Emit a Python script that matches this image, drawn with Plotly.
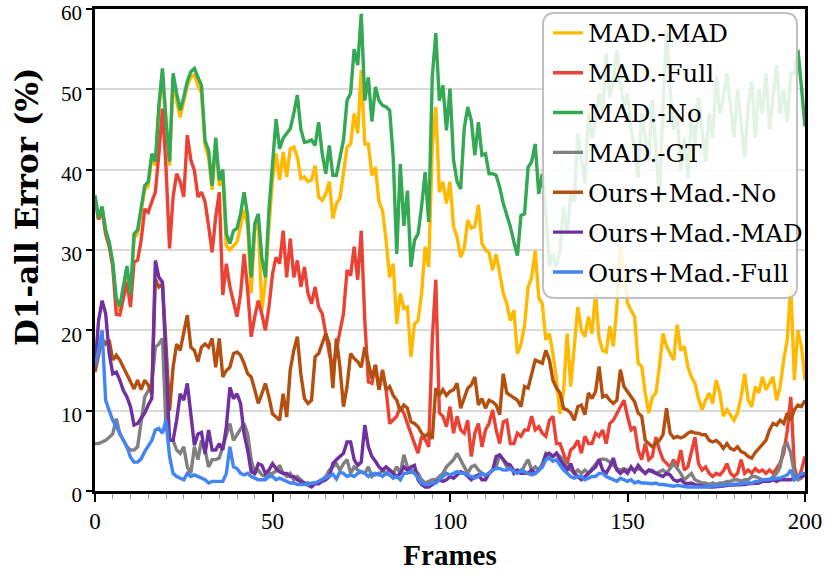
import plotly.graph_objects as go

# Frame index 0..200 and D1-all error (%) for each configuration
frames = list(range(201))

mad_mad = [
    36.5, 33.8, 35.0, 32.0, 30.5, 28.0, 23.5, 22.5, 25.0, 27.5,
    24.0, 31.5, 32.0, 34.5, 37.5, 38.0, 41.5, 40.5, 47.5, 52.0,
    45.5, 40.5, 51.5, 48.5, 46.5, 48.5, 50.5, 51.5, 51.8, 50.5,
    49.5, 43.0, 41.5, 37.5, 43.5, 38.0, 39.0, 30.5, 30.0, 30.5,
    31.0, 33.0, 35.0, 33.0, 24.6, 32.5, 33.5, 22.5, 26.0, 33.0,
    38.7, 42.0, 38.7, 42.2, 39.1, 42.6, 42.8, 41.6, 38.9, 39.1,
    38.5, 38.7, 40.5, 36.6, 36.2, 37.0, 38.5, 33.9, 35.8, 36.4,
    39.9, 42.8, 43.2, 47.0, 44.5, 52.4, 43.2, 43.2, 39.3, 40.3,
    36.0, 34.9, 31.2, 26.6, 28.3, 20.8, 24.6, 22.7, 22.9, 16.7,
    20.8, 21.2, 24.6, 30.4, 27.9, 42.8, 47.8, 37.2, 38.5, 35.8,
    38.5, 32.9, 31.6, 29.1, 30.2, 33.7, 32.7, 32.9, 35.6, 30.8,
    30.0, 29.7, 27.5, 29.5, 27.1, 24.6, 23.3, 21.2, 22.5, 17.1,
    18.3, 20.6, 25.4, 26.6, 29.9, 24.1, 23.3, 18.8, 19.6, 17.1,
    13.8, 9.6, 12.5, 19.6, 13.0, 17.5, 22.9, 20.0, 19.2, 21.7,
    19.6, 24.6, 19.0, 17.5, 17.3, 20.5, 18.0, 22.9, 30.4, 27.1,
    23.4, 22.5, 21.7, 15.9, 15.5, 12.2, 9.7, 11.7, 12.2, 15.5,
    19.6, 18.0, 17.1, 16.3, 20.7, 17.5, 18.0, 15.5, 14.2, 13.4,
    11.5, 10.1, 11.3, 12.2, 10.9, 13.8, 12.2, 9.3, 10.1, 9.5,
    8.8, 9.7, 11.7, 14.6, 11.3, 10.5, 13.0, 12.2, 14.2, 12.6,
    13.4, 14.2, 11.3, 13.0, 16.3, 18.8, 25.5, 13.8, 20.0, 18.0,
    13.8,
]

mad_full = [
    36.5, 33.8, 35.0, 32.0, 30.5, 28.0, 22.0, 21.9, 24.0, 26.0,
    22.9, 28.5, 28.7, 31.2, 35.1, 34.7, 36.0, 37.2, 42.0, 47.6,
    40.3, 30.2, 36.6, 39.5, 38.5, 36.6, 44.3, 41.2, 39.9, 36.6,
    37.2, 36.0, 33.0, 29.7, 34.1, 37.2, 24.4, 28.3, 25.4, 23.7,
    21.7, 24.5, 29.5, 25.0, 19.2, 21.7, 23.7, 22.0, 20.0, 22.9,
    27.0, 29.1, 28.3, 32.4, 26.6, 31.4, 26.6, 28.7, 25.4, 27.9,
    24.6, 23.3, 25.4, 22.9, 22.1, 19.6, 17.1, 15.4, 17.5, 19.6,
    22.1, 27.5, 26.8, 30.4, 26.3, 32.4, 21.2, 13.6, 13.4, 15.7,
    12.6, 15.1, 12.6, 8.4, 8.8, 9.3, 10.5, 9.7, 8.4, 7.0,
    5.9, 4.7, 6.8, 6.4, 5.5, 18.8, 26.3, 9.7, 9.3, 8.0,
    10.5, 7.2, 9.3, 7.6, 7.2, 8.8, 4.3, 7.2, 8.4, 5.5,
    7.6, 8.4, 10.1, 7.6, 5.9, 8.6, 8.8, 5.9, 5.9, 7.2,
    6.8, 7.6, 7.6, 9.3, 7.6, 8.0, 7.2, 6.8, 8.8, 9.3,
    5.9, 5.9, 4.7, 3.4, 5.1, 5.5, 6.3, 4.7, 6.8, 5.9,
    5.9, 7.2, 6.8, 7.6, 5.9, 8.4, 8.8, 9.7, 10.5, 11.3,
    9.3, 7.6, 8.0, 5.1, 3.9, 5.9, 3.9, 4.3, 6.7, 5.1,
    3.9, 3.4, 3.0, 3.9, 3.0, 5.1, 2.6, 3.0, 4.7, 6.7,
    3.4, 2.6, 3.0, 2.2, 1.8, 2.2, 2.0, 2.5, 3.4, 2.2,
    1.8, 2.2, 3.9, 2.2, 2.6, 2.2, 2.8, 2.4, 2.6, 2.2,
    2.6, 2.2, 2.8, 3.5, 4.7, 7.5, 11.7, 3.0, 1.4, 2.6,
    4.3,
]

mad_no = [
    36.8, 34.0, 35.4, 32.5, 31.0, 28.5, 24.0, 23.0, 25.5, 28.0,
    24.5, 32.0, 32.5, 35.0, 38.0, 38.5, 42.0, 41.0, 48.0, 52.6,
    46.0, 41.0, 52.0, 49.5, 47.4, 49.0, 51.0, 52.2, 52.6, 51.5,
    50.5, 43.6, 42.4, 38.0, 44.0, 38.7, 40.0, 32.0, 30.8, 32.4,
    32.7, 34.5, 37.2, 34.3, 26.6, 33.3, 34.5, 29.0, 26.6, 35.0,
    41.2, 46.3, 42.6, 43.9, 44.5, 45.1, 47.0, 49.3, 45.0, 43.4,
    43.5, 43.7, 43.0, 45.9, 42.0, 39.5, 43.0, 39.3, 39.3, 41.4,
    43.7, 48.6, 49.5, 55.0, 53.0, 59.4, 48.6, 51.5, 46.0, 50.3,
    48.6, 48.0, 47.8, 47.4, 41.6, 29.5, 40.7, 33.0, 37.4, 27.9,
    31.2, 32.0, 35.4, 39.7, 33.5, 51.5, 57.0, 48.6, 50.5, 44.9,
    50.1, 41.2, 38.5, 37.6, 45.1, 47.8, 46.1, 41.8, 45.9, 41.8,
    42.0, 39.5, 39.5, 39.3, 37.8, 35.8, 34.5, 32.9, 31.0, 29.3,
    34.3, 34.5, 40.3, 41.0, 43.2, 37.0, 39.5, 34.5, 28.0, 29.5,
    28.0, 30.0, 35.4, 32.0, 37.0, 36.0, 44.5, 41.0, 38.3, 47.0,
    44.0, 46.0, 49.5, 47.0, 54.5, 49.0, 51.0, 54.9, 50.7, 48.0,
    49.5, 45.0, 42.5, 39.0, 47.0, 44.0, 41.2, 48.7, 43.0, 36.2,
    48.0, 57.4, 50.0, 45.0, 47.0, 40.0, 44.0, 39.0, 46.6, 43.0,
    49.0, 45.0, 41.0, 47.0, 44.0, 51.6, 47.0, 49.0, 52.0, 48.0,
    44.0, 50.0, 46.0, 41.5, 48.0, 51.0, 44.0, 50.0, 47.0, 52.0,
    45.0, 49.0, 53.0, 47.0, 50.0, 46.0, 52.0, 52.0, 54.9, 50.3,
    45.4,
]

mad_gt = [
    5.9, 5.9, 6.1, 6.3, 6.7, 7.1, 9.0, 7.1, 6.3, 5.5,
    5.1, 5.1, 5.5, 8.8, 11.7, 12.5, 13.4, 17.9, 18.3, 19.0,
    8.0, 6.5, 6.3, 5.1, 4.7, 5.5, 3.0, 2.2, 5.5, 3.9,
    6.3, 5.1, 3.0, 3.9, 3.9, 4.1, 5.5, 7.1, 8.4, 6.3,
    7.0, 7.6, 8.4, 7.1, 3.9, 2.2, 2.6, 2.0, 1.8, 2.2,
    2.2, 2.5, 3.2, 2.2, 1.8, 2.2, 1.4, 1.8, 1.4, 1.0,
    1.0, 0.8, 1.0, 1.0, 1.4, 1.8, 2.6, 3.0, 3.4, 2.6,
    3.4, 3.9, 2.2, 3.0, 2.6, 2.4, 2.2, 3.0, 1.8, 2.2,
    2.0, 2.6, 2.2, 2.6, 2.2, 3.0, 2.2, 4.5, 3.0, 2.6,
    2.6, 2.2, 1.4, 1.0, 1.2, 1.4, 1.4, 1.8, 2.2, 3.0,
    3.4, 3.9, 4.7, 3.9, 3.0, 2.2, 3.0, 3.2, 2.6, 2.2,
    1.8, 2.2, 2.6, 3.0, 4.5, 3.9, 3.0, 3.2, 2.6, 2.4,
    2.2, 3.2, 3.9, 2.6, 3.0, 2.6, 3.4, 4.7, 4.3, 4.3,
    4.7, 4.3, 3.9, 3.0, 2.6, 2.2, 2.6, 2.2, 2.6, 2.2,
    2.8, 3.4, 3.9, 4.0, 3.9, 3.6, 3.2, 2.8, 2.6, 2.8,
    2.6, 2.8, 2.6, 2.8, 2.6, 2.2, 2.6, 2.6, 2.2, 2.4,
    2.6, 2.2, 2.8, 3.4, 2.8, 2.2, 1.4, 1.8, 2.2, 1.4,
    1.2, 1.0, 1.0, 0.8, 1.0, 0.8, 1.0, 1.0, 1.2, 1.2,
    1.4, 1.4, 1.2, 1.4, 1.4, 1.8, 1.8, 1.6, 1.4, 1.4,
    1.4, 1.8, 2.2, 3.0, 5.5, 5.9, 4.7, 2.2, 1.4, 1.6,
    2.2,
]

ours_no = [
    14.8, 16.7, 19.0, 18.3, 18.8, 16.3, 16.9, 16.3, 15.4, 14.6,
    13.6, 12.7, 13.8, 12.6, 13.8, 13.2, 12.1, 26.4, 25.4, 25.8,
    18.3, 10.0, 15.4, 18.3, 17.5, 20.0, 21.9, 17.9, 17.5, 16.1,
    17.9, 18.3, 17.9, 19.0, 15.4, 19.0, 14.2, 15.0, 15.4, 17.1,
    17.3, 16.9, 15.9, 14.6, 14.2, 12.6, 10.9, 12.1, 13.4, 11.7,
    9.6, 9.2, 8.8, 12.1, 9.2, 15.1, 17.5, 19.2, 14.5, 11.5,
    10.9, 11.3, 16.7, 17.1, 18.3, 19.6, 18.3, 12.8, 19.0, 15.4,
    10.5, 13.0, 17.1, 16.5, 16.1, 15.4, 17.9, 15.9, 14.0, 15.7,
    12.6, 14.9, 12.6, 13.0, 11.9, 11.3, 9.9, 10.7, 10.3, 8.6,
    8.4, 8.0, 7.2, 6.8, 7.2, 6.5, 12.8, 11.9, 12.6, 11.9,
    12.4, 12.6, 13.4, 10.3, 11.7, 12.8, 13.2, 14.2, 10.7, 11.5,
    10.3, 11.3, 11.1, 10.7, 9.5, 14.6, 12.2, 11.9, 11.7, 11.3,
    10.5, 13.0, 12.8, 14.6, 16.3, 16.1, 15.9, 17.5, 16.3, 13.8,
    12.8, 12.2, 10.3, 10.1, 9.7, 8.8, 10.5, 10.7, 9.5, 12.2,
    11.5, 12.4, 15.5, 11.7, 11.9, 11.3, 10.9, 11.3, 15.1, 13.0,
    12.4, 11.7, 11.1, 9.7, 9.3, 6.3, 5.9, 5.5, 5.9, 6.3,
    7.0, 10.3, 7.2, 6.6, 6.8, 6.6, 6.8, 7.2, 7.4, 7.2,
    7.2, 7.0, 7.0, 6.3, 6.1, 6.3, 5.9, 5.3, 5.9, 5.3,
    5.1, 5.5, 4.9, 4.7, 4.3, 4.1, 4.8, 5.3, 5.9, 6.3,
    7.6, 8.4, 8.2, 8.8, 8.4, 9.7, 8.8, 10.1, 10.7, 10.5,
    11.3,
]

ours_mad = [
    15.4, 21.2, 23.7, 22.1, 17.1, 14.6, 14.8, 13.8, 12.5, 11.7,
    10.5, 8.2, 8.4, 9.0, 9.7, 10.7, 11.5, 28.7, 26.6, 26.0,
    15.4, 6.3, 6.3, 8.8, 12.1, 11.3, 13.4, 9.7, 5.7, 7.1,
    7.3, 4.6, 7.6, 5.1, 5.1, 5.9, 5.1, 8.0, 12.9, 11.5,
    12.1, 10.9, 7.1, 5.1, 2.4, 2.2, 3.4, 3.2, 2.2, 2.6,
    3.4, 2.8, 2.4, 2.2, 2.2, 1.8, 1.8, 1.4, 1.2, 0.9,
    0.7, 0.5, 0.9, 0.9, 1.2, 1.4, 1.8, 3.4, 3.9, 4.3,
    4.7, 6.1, 6.1, 3.9, 3.2, 3.6, 8.2, 5.5, 4.3, 3.7,
    3.0, 2.6, 3.0, 2.6, 2.2, 1.8, 2.2, 3.0, 2.6, 3.0,
    3.2, 1.4, 0.8, 0.5, 0.5, 0.8, 1.2, 1.4, 1.2, 1.4,
    1.8, 1.6, 2.0, 2.4, 2.2, 1.8, 1.4, 1.8, 2.0, 1.4,
    1.4, 2.2, 2.6, 4.3, 4.5, 3.9, 3.4, 3.2, 2.2, 2.6,
    2.2, 2.2, 2.2, 2.6, 2.2, 2.6, 3.0, 4.5, 4.7, 4.3,
    4.7, 3.9, 3.2, 2.6, 3.4, 2.2, 1.8, 1.4, 1.8, 2.2,
    2.6, 3.0, 3.9, 2.6, 2.2, 3.0, 4.1, 2.6, 2.2, 2.6,
    2.2, 3.0, 2.4, 3.2, 2.6, 2.2, 2.6, 2.4, 2.2, 2.0,
    1.8, 2.2, 2.0, 1.4, 1.2, 1.4, 1.0, 0.9, 1.0, 0.8,
    0.7, 0.6, 0.5, 0.5, 0.5, 0.5, 0.5, 0.6, 0.7, 0.7,
    0.7, 0.7, 0.7, 0.8, 0.9, 0.9, 0.9, 1.0, 1.2, 1.2,
    1.2, 1.4, 1.2, 1.4, 1.4, 1.4, 1.4, 1.6, 1.8, 1.8,
    2.0,
]

ours_full = [
    15.5, 17.5, 20.0, 11.3, 10.0, 8.8, 8.0, 7.1, 6.3, 5.5,
    4.2, 3.6, 3.6, 4.0, 4.9, 5.7, 6.3, 7.6, 7.8, 7.2,
    8.8, 4.3, 2.2, 1.8, 1.6, 1.4, 2.2, 1.8, 2.0, 1.8,
    1.6, 1.4, 1.0, 1.2, 1.2, 1.2, 1.2, 2.2, 5.5, 3.0,
    2.8, 2.2, 2.0, 2.2, 1.8, 1.6, 1.4, 1.4, 1.4, 1.8,
    1.8, 1.4, 1.6, 1.4, 1.2, 1.0, 1.0, 0.8, 0.8, 0.8,
    0.8, 1.0, 1.0, 1.2, 1.4, 1.6, 1.8, 2.1, 1.5, 2.4,
    2.2, 1.8, 2.0, 1.8, 2.2, 2.4, 2.2, 1.8, 2.2, 2.0,
    2.2, 1.8, 2.2, 2.0, 1.6, 1.8, 1.4, 2.2, 2.2, 2.4,
    2.2, 1.6, 1.0, 0.8, 0.8, 1.0, 1.0, 1.4, 1.8, 2.2,
    2.0, 2.2, 2.4, 2.2, 2.2, 2.0, 1.8, 1.6, 1.8, 2.2,
    2.0, 2.2, 2.6, 2.8, 2.8, 2.6, 2.6, 2.8, 2.4, 2.2,
    2.6, 2.4, 2.2, 2.0, 2.2, 2.6, 3.0, 3.9, 4.1, 3.7,
    3.9, 3.2, 2.6, 2.2, 1.8, 1.6, 1.8, 1.8, 1.4, 1.6,
    1.8, 1.8, 2.2, 2.2, 1.8, 1.6, 1.4, 1.2, 1.6, 1.4,
    1.2, 1.4, 1.0, 1.2, 1.0, 1.0, 0.9, 0.9, 1.0, 0.8,
    0.8, 0.7, 0.6, 0.6, 0.7, 0.6, 0.6, 0.5, 0.5, 0.5,
    0.4, 0.5, 0.5, 0.6, 0.6, 0.6, 0.7, 0.7, 0.8, 0.8,
    0.8, 0.9, 0.9, 1.0, 1.0, 1.0, 1.2, 1.2, 1.4, 1.4,
    1.4, 1.5, 1.6, 1.6, 1.8, 2.0, 2.6, 1.4, 1.8, 2.2,
    2.2,
]

series_names = ['MAD.-MAD', 'MAD.-Full', 'MAD.-No', 'MAD.-GT',
                'Ours+Mad.-No', 'Ours+Mad.-MAD', 'Ours+Mad.-Full']
series_values = [mad_mad, mad_full, mad_no, mad_gt, ours_no, ours_mad, ours_full]
series_colors = ['#FFB900', '#EA4335', '#34A853', '#808080',
                 '#B4500F', '#7030A0', '#4285F4']

x_ticks = [0, 50, 100, 150, 200]
y_ticks = [0, 10, 20, 30, 40, 50, 60]

for name, vals in zip(series_names, series_values):
    print(name, len(vals))

fig = go.Figure()
for name, vals, color in zip(series_names, series_values, series_colors):
    fig.add_trace(go.Scatter(
        x=frames, y=vals, mode='lines', name=name,
        legendgroup=name,
        line=dict(color=color, width=3.4),
    ))

# rounded, semi-transparent legend frame (paper coords)
x0, x1 = 0.631, 0.9887
y0, y1 = 0.4004, 0.9917
rx, ry = 0.0169, 0.0249
legend_path = (
    f"M {x0+rx},{y1} L {x1-rx},{y1} Q {x1},{y1} {x1},{y1-ry} "
    f"L {x1},{y0+ry} Q {x1},{y0} {x1-rx},{y0} "
    f"L {x0+rx},{y0} Q {x0},{y0} {x0},{y0+ry} "
    f"L {x0},{y1-ry} Q {x0},{y1} {x0+rx},{y1} Z"
)

fig.update_layout(
    width=831, height=575,
    margin=dict(l=95, r=26, t=9, b=84),
    plot_bgcolor='white', paper_bgcolor='white',
    shapes=[dict(type='path', path=legend_path, xref='paper', yref='paper',
                 fillcolor='rgba(255,255,255,0.86)',
                 line=dict(color='#BFBFBF', width=2), layer='above')],
    legend=dict(
        x=0.638, y=0.997, xanchor='left', yanchor='top',
        bgcolor='rgba(0,0,0,0)', borderwidth=0,
        font=dict(family='DejaVu Serif', size=24.5, color='black'),
        tracegroupgap=5,
    ),
    # y title sits above the plot centre in the reference, so it is an annotation
    annotations=[dict(
        text='<b>D1-all Error (%)</b>', textangle=-90, showarrow=False,
        xref='paper', yref='paper', x=-0.0958, y=0.591,
        xanchor='center', yanchor='middle',
        font=dict(family='DejaVu Serif', size=31, color='black'),
    )],
    xaxis=dict(
        range=[0, 200], tickvals=x_ticks, ticks='outside', ticklen=8,
        tickwidth=2, tickcolor='black', automargin=False,
        minor=dict(dtick=5, ticks='outside', ticklen=5, tickwidth=1, tickcolor='#999999'),
        showline=True, linecolor='black', linewidth=2.5, mirror=True,
        showgrid=False, zeroline=False,
        tickfont=dict(family='Liberation Serif', size=23, color='black'),
        title=dict(text='<b>Frames</b>', standoff=12,
                   font=dict(family='Liberation Serif', size=29, color='black')),
    ),
    yaxis=dict(
        range=[0, 60], tickvals=y_ticks, ticks='outside', ticklen=6,
        tickwidth=2, tickcolor='black', automargin=False,
        ticklabeloverflow='allow', ticklabelshift=4,
        showline=True, linecolor='black', linewidth=2.5, mirror=True,
        showgrid=True, gridcolor='#D9D9D9', gridwidth=1.5, zeroline=False,
        tickfont=dict(family='Liberation Serif', size=21, color='black'),
    ),
)

# drop the default page margin so the figure sits at the window's top-left corner
fig.write_html("out.html", config={'displayModeBar': False},
               post_script="document.body.style.margin='0';")
